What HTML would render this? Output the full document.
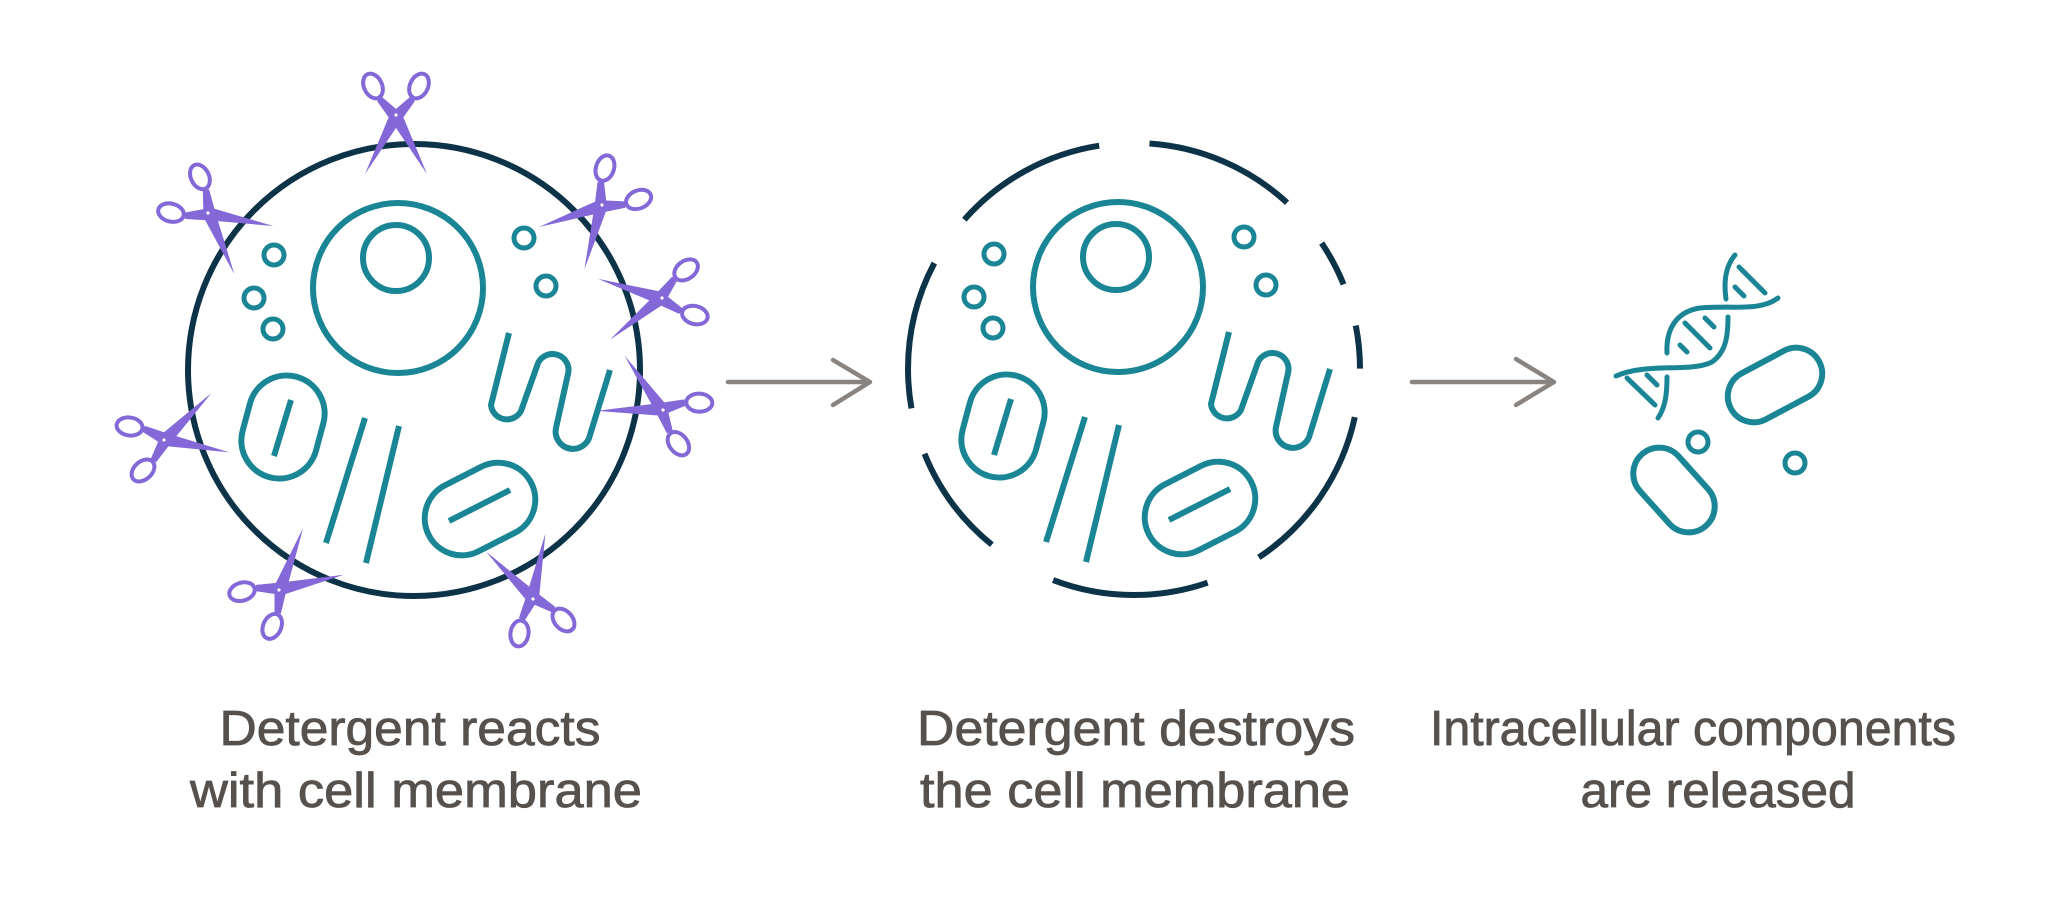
<!DOCTYPE html>
<html><head><meta charset="utf-8"><style>
html,body{margin:0;padding:0;background:#fff;}
svg{display:block;}
</style></head><body>
<svg width="2048" height="919" viewBox="0 0 2048 919" xmlns="http://www.w3.org/2000/svg">
<defs>
<g id="sc" fill="#8468d8">
  <polygon points="-19,-14 -14,-18 6,-1 31,59 -4,7"/>
  <polygon points="19,-14 14,-18 -6,-1 -31,59 4,7"/>
  <ellipse cx="-23" cy="-29" rx="9" ry="13" fill="none" stroke="#8468d8" stroke-width="4" transform="rotate(-25 -23 -29)"/>
  <ellipse cx="23" cy="-29" rx="9" ry="13" fill="none" stroke="#8468d8" stroke-width="4" transform="rotate(25 23 -29)"/>
  <circle cx="0" cy="0" r="1.6" fill="#fff"/>
</g>
<g id="inner" fill="none" stroke="#1a8595" stroke-width="6" stroke-linecap="butt">
  <circle cx="398" cy="288" r="85"/>
  <circle cx="396" cy="258" r="33"/>
  <circle cx="274" cy="255" r="10" stroke-width="5"/>
  <circle cx="254" cy="298" r="10" stroke-width="5"/>
  <circle cx="273" cy="329" r="10" stroke-width="5"/>
  <circle cx="524" cy="238" r="10" stroke-width="5"/>
  <circle cx="546" cy="286" r="10" stroke-width="5"/>
  <rect x="-38" y="-52" width="76" height="104" rx="38" transform="translate(283,427) rotate(15)"/>
  <line x1="291" y1="400" x2="274" y2="456"/>
  <line x1="365" y1="418" x2="326" y2="543"/>
  <line x1="399" y1="426" x2="366" y2="563"/>
  <rect x="-57.5" y="-37" width="115" height="74" rx="37" transform="translate(480,509) rotate(-27)"/>
  <line x1="449" y1="521" x2="510" y2="490"/>
  <path d="M509,333 L491,405 A16,16 0 0 0 521,411 L537,366 A16,16 0 0 1 568,374 L556,428 A17,17 0 0 0 590,435 L610,370"/>
</g>
</defs>

<circle cx="414" cy="370" r="226" fill="none" stroke="#0d3349" stroke-width="6"/>
<use href="#inner"/>
<use href="#sc" transform="translate(396,115) rotate(0)"/>
<use href="#sc" transform="translate(208,213) rotate(-51)"/>
<use href="#sc" transform="translate(602,205) rotate(43)"/>
<use href="#sc" transform="translate(662,298) rotate(79)"/>
<use href="#sc" transform="translate(663,410) rotate(117)"/>
<use href="#sc" transform="translate(164,440) rotate(-107)"/>
<use href="#sc" transform="translate(279,590) rotate(-131)"/>
<use href="#sc" transform="translate(533,599) rotate(163)"/>

<g fill="none" stroke="#8a8480" stroke-width="4.5" stroke-linecap="round" stroke-linejoin="round">
  <line x1="728" y1="382" x2="869" y2="382"/>
  <polyline points="833,360 870,382 833,405"/>
  <line x1="1412" y1="382" x2="1553" y2="382"/>
  <polyline points="1516,359 1554,382 1516,405"/>
</g>

<circle cx="1134" cy="369" r="226" fill="none" stroke="#0d3349" stroke-width="6" pathLength="360"
  stroke-dasharray="44.2 14.5 40 18 29 12 38 13.4 39.8 12.8 38.7 13.5 11.9 10.9 11 12.3" stroke-dashoffset="347.7"/>
<use href="#inner" transform="translate(720,-1)"/>

<g fill="none" stroke="#1a8595" stroke-width="6" stroke-linecap="round">
  <rect x="-50" y="-26" width="100" height="52" rx="26" transform="translate(1775,385) rotate(-28)"/>
  <rect x="-48" y="-26" width="96" height="52" rx="26" transform="translate(1674,490) rotate(48)"/>
  <circle cx="1698" cy="442" r="10" stroke-width="5"/>
  <circle cx="1795" cy="463" r="10" stroke-width="5"/>
  <g stroke-width="5">
    <path d="M1735,255 C1724,268 1724,285 1726,299"/>
    <path d="M1728,317 C1728,336 1726,352 1712,362 C1690,373 1648,362 1616,376"/>
    <path d="M1778,298 C1760,312 1730,305 1700,308 C1674,312 1666,332 1667,353"/>
    <path d="M1667,377 C1667,395 1665,408 1658,418"/>
    <line x1="1739" y1="267" x2="1765" y2="293"/>
    <line x1="1735" y1="287" x2="1744" y2="296"/>
    <line x1="1685" y1="323" x2="1710" y2="348"/>
    <line x1="1705" y1="318" x2="1714" y2="327"/>
    <line x1="1680" y1="345" x2="1687" y2="352"/>
    <line x1="1627" y1="378" x2="1655" y2="405"/>
    <line x1="1647" y1="375" x2="1657" y2="385"/>
  </g>
</g>

<g font-family="'Liberation Sans', sans-serif" font-size="49" fill="#56514d" stroke="#56514d" stroke-width="0.8" text-anchor="middle">
  <text x="410" y="745" textLength="381" lengthAdjust="spacingAndGlyphs">Detergent reacts</text>
  <text x="416" y="807" textLength="452" lengthAdjust="spacingAndGlyphs">with cell membrane</text>
  <text x="1136" y="745" textLength="438" lengthAdjust="spacingAndGlyphs">Detergent destroys</text>
  <text x="1135" y="807" textLength="430" lengthAdjust="spacingAndGlyphs">the cell membrane</text>
  <text x="1693" y="745" textLength="526" lengthAdjust="spacingAndGlyphs">Intracellular components</text>
  <text x="1718" y="807" textLength="275" lengthAdjust="spacingAndGlyphs">are released</text>
</g>
</svg>
</body></html>
